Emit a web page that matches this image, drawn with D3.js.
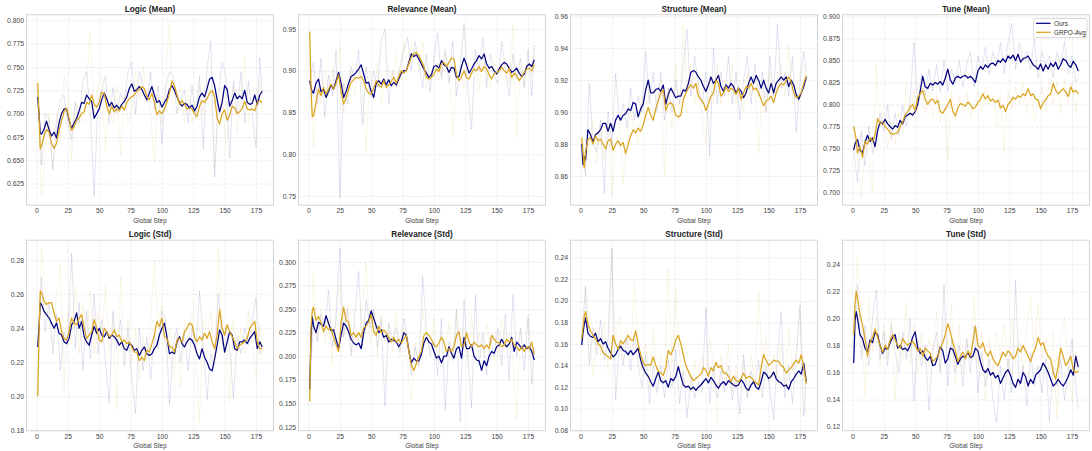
<!DOCTYPE html>
<html>
<head>
<meta charset="utf-8">
<script src="https://cdn.jsdelivr.net/npm/d3@7"></script>
<style>
  body { margin: 0; background: #fff; }
  svg text { font-family: "Liberation Sans", Arial, sans-serif; }
  .grid line { stroke: #e6e6e6; stroke-width: 0.8; stroke-dasharray: 2.5,1.6; }
  .grid path { display: none; }
  .axis path, .axis line { display: none; }
  .axis text { fill: #444; font-size: 6.8px; }
  .title { fill: #222; font-size: 8.2px; font-weight: bold; }
  .xlabel { fill: #444; font-size: 6.4px; }
</style>
</head>
<body>
<div id="container"></div>
<script>
'use strict';

const width = 1092, height = 451;

// steps of the smoothed curves and of the raw (faint) curves
const smoothSteps = [1, 2, 3, ...d3.range(4, 181, 2)];
const rawSteps = [...d3.range(1, 181, 3), 180];
const xTicks = [0, 25, 50, 75, 100, 125, 150, 175];
const seriesNames = ["Ours", "GRPO-Avg"];

// ---- Logic (Mean)
const logicMeanOurs = [
  0.718, 0.700, 0.679, 0.678, 0.683, 0.692, 0.683, 0.676, 0.680, 0.674,
  0.690, 0.700, 0.705, 0.705, 0.693, 0.684, 0.690, 0.695, 0.703, 0.712,
  0.711, 0.720, 0.716, 0.713, 0.695, 0.700, 0.705, 0.715, 0.722, 0.716,
  0.708, 0.712, 0.706, 0.709, 0.705, 0.710, 0.713, 0.718, 0.727, 0.732,
  0.724, 0.726, 0.729, 0.726, 0.720, 0.715, 0.722, 0.729, 0.720, 0.712,
  0.714, 0.707, 0.712, 0.716, 0.726, 0.730, 0.725, 0.718, 0.712, 0.708,
  0.711, 0.710, 0.706, 0.709, 0.703, 0.708, 0.718, 0.722, 0.718, 0.727,
  0.737, 0.739, 0.730, 0.715, 0.702, 0.712, 0.730, 0.726, 0.708, 0.714,
  0.722, 0.716, 0.719, 0.716, 0.725, 0.712, 0.710, 0.711, 0.720, 0.710,
  0.720, 0.724];
const logicMeanGrpo = [
  0.733, 0.700, 0.662, 0.665, 0.676, 0.683, 0.680, 0.668, 0.663, 0.668,
  0.682, 0.692, 0.702, 0.706, 0.695, 0.682, 0.686, 0.693, 0.695, 0.700,
  0.702, 0.712, 0.710, 0.720, 0.710, 0.707, 0.712, 0.723, 0.721, 0.708,
  0.700, 0.708, 0.702, 0.705, 0.703, 0.708, 0.704, 0.712, 0.716, 0.718,
  0.720, 0.724, 0.726, 0.729, 0.727, 0.718, 0.715, 0.722, 0.712, 0.699,
  0.703, 0.700, 0.705, 0.712, 0.722, 0.735, 0.730, 0.720, 0.710, 0.714,
  0.710, 0.705, 0.706, 0.705, 0.700, 0.697, 0.708, 0.714, 0.712, 0.716,
  0.722, 0.725, 0.718, 0.695, 0.689, 0.700, 0.704, 0.693, 0.698, 0.708,
  0.706, 0.700, 0.702, 0.706, 0.713, 0.705, 0.704, 0.705, 0.703, 0.712,
  0.714, 0.712];
const logicMeanOursRaw = [
  0.718, 0.645, 0.700, 0.695, 0.640, 0.690, 0.715, 0.720, 0.690, 0.672,
  0.712, 0.690, 0.735, 0.745, 0.700, 0.611, 0.715, 0.725, 0.740, 0.690,
  0.728, 0.700, 0.722, 0.712, 0.745, 0.755, 0.700, 0.745, 0.730, 0.712,
  0.745, 0.705, 0.730, 0.668, 0.728, 0.745, 0.740, 0.700, 0.715, 0.725,
  0.690, 0.730, 0.695, 0.740, 0.662, 0.750, 0.778, 0.632, 0.720, 0.755,
  0.740, 0.652, 0.735, 0.700, 0.745, 0.690, 0.735, 0.700, 0.664, 0.760,
  0.720];
const logicMeanGrpoRaw = [
  0.733, 0.612, 0.660, 0.700, 0.640, 0.700, 0.675, 0.740, 0.725, 0.650,
  0.715, 0.700, 0.690, 0.735, 0.786, 0.700, 0.725, 0.740, 0.660, 0.712,
  0.690, 0.730, 0.655, 0.720, 0.690, 0.700, 0.745, 0.715, 0.750, 0.720,
  0.700, 0.647, 0.720, 0.690, 0.740, 0.797, 0.705, 0.700, 0.730, 0.690,
  0.720, 0.690, 0.712, 0.730, 0.700, 0.735, 0.725, 0.640, 0.700, 0.720,
  0.665, 0.710, 0.730, 0.680, 0.720, 0.762, 0.690, 0.715, 0.700, 0.735,
  0.700];

// ---- Relevance (Mean)
const relevanceMeanOurs = [
  0.888, 0.880, 0.875, 0.873, 0.885, 0.890, 0.875, 0.878, 0.868, 0.875,
  0.883, 0.878, 0.888, 0.898, 0.885, 0.868, 0.875, 0.885, 0.893, 0.895,
  0.898, 0.902, 0.907, 0.896, 0.885, 0.886, 0.875, 0.868, 0.885, 0.888,
  0.884, 0.890, 0.883, 0.889, 0.882, 0.886, 0.883, 0.890, 0.897, 0.900,
  0.900, 0.910, 0.920, 0.917, 0.919, 0.914, 0.908, 0.902, 0.897, 0.892,
  0.895, 0.905, 0.906, 0.903, 0.912, 0.907, 0.905, 0.898, 0.904, 0.903,
  0.892, 0.893, 0.905, 0.915, 0.907, 0.897, 0.902, 0.908, 0.912, 0.918,
  0.914, 0.920, 0.908, 0.903, 0.905, 0.900, 0.896, 0.902, 0.907, 0.910,
  0.908, 0.903, 0.898, 0.900, 0.903, 0.897, 0.893, 0.896, 0.905, 0.908,
  0.905, 0.913];
const relevanceMeanGrpo = [
  0.947, 0.880, 0.845, 0.846, 0.862, 0.878, 0.870, 0.880, 0.872, 0.878,
  0.884, 0.878, 0.885, 0.895, 0.875, 0.860, 0.868, 0.878, 0.886, 0.889,
  0.892, 0.891, 0.893, 0.888, 0.878, 0.873, 0.872, 0.879, 0.888, 0.883,
  0.880, 0.888, 0.880, 0.883, 0.887, 0.892, 0.885, 0.893, 0.900, 0.897,
  0.900, 0.908, 0.916, 0.920, 0.922, 0.918, 0.912, 0.905, 0.892, 0.890,
  0.892, 0.896, 0.902, 0.899, 0.908, 0.910, 0.905, 0.910, 0.915, 0.914,
  0.895, 0.888, 0.893, 0.900, 0.892, 0.890, 0.897, 0.902, 0.900, 0.905,
  0.899, 0.905, 0.902, 0.895, 0.890, 0.896, 0.898, 0.900, 0.904, 0.900,
  0.897, 0.903, 0.892, 0.897, 0.894, 0.888, 0.893, 0.898, 0.902, 0.903,
  0.900, 0.907];
const relevanceMeanOursRaw = [
  0.888, 0.910, 0.860, 0.915, 0.845, 0.895, 0.870, 0.925, 0.748, 0.885,
  0.860, 0.905, 0.890, 0.925, 0.835, 0.905, 0.870, 0.900, 0.880, 0.935,
  0.950, 0.860, 0.900, 0.880, 0.905, 0.925, 0.940, 0.900, 0.935, 0.910,
  0.880, 0.920, 0.875, 0.915, 0.945, 0.890, 0.925, 0.885, 0.935, 0.870,
  0.905, 0.955, 0.880, 0.830, 0.925, 0.900, 0.940, 0.880, 0.920, 0.895,
  0.885, 0.935, 0.900, 0.870, 0.920, 0.890, 0.915, 0.880, 0.925, 0.870,
  0.930];
const relevanceMeanGrpoRaw = [
  0.947, 0.808, 0.880, 0.860, 0.900, 0.870, 0.905, 0.880, 0.930, 0.850,
  0.890, 0.900, 0.870, 0.905, 0.880, 0.805, 0.900, 0.875, 0.910, 0.860,
  0.895, 0.905, 0.880, 0.920, 0.890, 0.935, 0.905, 0.930, 0.920, 0.900,
  0.935, 0.880, 0.895, 0.905, 0.910, 0.895, 0.920, 0.905, 0.820, 0.895,
  0.905, 0.880, 0.910, 0.895, 0.915, 0.875, 0.920, 0.895, 0.880, 0.910,
  0.900, 0.895, 0.915, 0.885, 0.955, 0.820, 0.905, 0.880, 0.915, 0.895,
  0.935];

// ---- Structure (Mean)
const structureMeanOurs = [
  0.880, 0.867, 0.872, 0.870, 0.889, 0.886, 0.881, 0.886, 0.887, 0.889,
  0.893, 0.893, 0.888, 0.893, 0.888, 0.895, 0.898, 0.895, 0.898, 0.899,
  0.902, 0.901, 0.906, 0.905, 0.897, 0.902, 0.905, 0.914, 0.920, 0.912,
  0.912, 0.914, 0.915, 0.913, 0.917, 0.905, 0.911, 0.915, 0.912, 0.909,
  0.910, 0.910, 0.914, 0.913, 0.918, 0.925, 0.926, 0.925, 0.922, 0.920,
  0.916, 0.913, 0.917, 0.922, 0.918, 0.920, 0.923, 0.916, 0.913, 0.917,
  0.915, 0.918, 0.916, 0.912, 0.915, 0.913, 0.909, 0.912, 0.918, 0.922,
  0.918, 0.923, 0.920, 0.915, 0.920, 0.915, 0.912, 0.918, 0.912, 0.918,
  0.920, 0.922, 0.920, 0.922, 0.916, 0.920, 0.917, 0.911, 0.908, 0.912,
  0.916, 0.922];
const structureMeanGrpo = [
  0.884, 0.875, 0.865, 0.875, 0.883, 0.884, 0.880, 0.885, 0.882, 0.883,
  0.880, 0.877, 0.882, 0.883, 0.876, 0.880, 0.882, 0.879, 0.881, 0.874,
  0.880, 0.885, 0.889, 0.887, 0.890, 0.888, 0.892, 0.898, 0.903, 0.898,
  0.895, 0.902, 0.907, 0.912, 0.914, 0.901, 0.905, 0.906, 0.904, 0.898,
  0.897, 0.898, 0.908, 0.912, 0.915, 0.917, 0.915, 0.918, 0.910, 0.908,
  0.906, 0.901, 0.905, 0.910, 0.912, 0.920, 0.918, 0.910, 0.912, 0.916,
  0.913, 0.915, 0.914, 0.911, 0.915, 0.908, 0.912, 0.916, 0.915, 0.918,
  0.914, 0.915, 0.912, 0.908, 0.904, 0.907, 0.908, 0.910, 0.906, 0.912,
  0.916, 0.918, 0.917, 0.920, 0.922, 0.919, 0.912, 0.909, 0.910, 0.912,
  0.918, 0.923];
const structureMeanOursRaw = [
  0.880, 0.860, 0.918, 0.880, 0.875, 0.895, 0.849, 0.900, 0.880, 0.924,
  0.895, 0.905, 0.890, 0.915, 0.895, 0.910, 0.900, 0.938, 0.905, 0.925,
  0.900, 0.925, 0.895, 0.915, 0.900, 0.920, 0.905, 0.930, 0.952, 0.910,
  0.935, 0.915, 0.905, 0.925, 0.872, 0.940, 0.905, 0.925, 0.910, 0.935,
  0.905, 0.925, 0.895, 0.920, 0.935, 0.905, 0.930, 0.910, 0.925, 0.900,
  0.935, 0.910, 0.955, 0.915, 0.925, 0.910, 0.935, 0.887, 0.920, 0.938,
  0.925];
const structureMeanGrpoRaw = [
  0.884, 0.870, 0.880, 0.895, 0.868, 0.890, 0.870, 0.895, 0.847, 0.880,
  0.895, 0.855, 0.880, 0.900, 0.890, 0.880, 0.910, 0.895, 0.915, 0.895,
  0.905, 0.920, 0.860, 0.915, 0.890, 0.930, 0.895, 0.955, 0.915, 0.930,
  0.905, 0.920, 0.895, 0.880, 0.920, 0.905, 0.930, 0.905, 0.920, 0.910,
  0.930, 0.905, 0.920, 0.900, 0.925, 0.910, 0.920, 0.874, 0.915, 0.900,
  0.925, 0.905, 0.920, 0.930, 0.910, 0.942, 0.905, 0.915, 0.925, 0.930,
  0.920];

// ---- Tune (Mean)
const tuneMeanOurs = [
  0.748, 0.755, 0.758, 0.760, 0.748, 0.745, 0.757, 0.765, 0.758, 0.762,
  0.752, 0.770, 0.780, 0.778, 0.783, 0.778, 0.775, 0.772, 0.776, 0.774,
  0.782, 0.778, 0.786, 0.788, 0.790, 0.788, 0.792, 0.800, 0.815, 0.832,
  0.820, 0.818, 0.824, 0.822, 0.825, 0.823, 0.826, 0.822, 0.830, 0.840,
  0.828, 0.823, 0.830, 0.832, 0.830, 0.832, 0.833, 0.830, 0.832, 0.829,
  0.825, 0.838, 0.843, 0.840, 0.845, 0.842, 0.846, 0.847, 0.844, 0.850,
  0.848, 0.852, 0.848, 0.855, 0.852, 0.856, 0.850, 0.857, 0.848, 0.852,
  0.853, 0.855, 0.850, 0.845, 0.843, 0.840, 0.846, 0.838, 0.845, 0.840,
  0.847, 0.843, 0.848, 0.840, 0.845, 0.852, 0.850, 0.845, 0.842, 0.849,
  0.845, 0.838];
const tuneMeanGrpo = [
  0.775, 0.768, 0.760, 0.745, 0.752, 0.740, 0.758, 0.755, 0.762, 0.758,
  0.765, 0.784, 0.778, 0.780, 0.775, 0.772, 0.768, 0.766, 0.767, 0.768,
  0.775, 0.780, 0.788, 0.792, 0.797, 0.800, 0.793, 0.808, 0.812, 0.816,
  0.806, 0.800, 0.805, 0.806, 0.801, 0.805, 0.792, 0.790, 0.795, 0.800,
  0.806, 0.792, 0.787, 0.796, 0.801, 0.800, 0.798, 0.803, 0.800, 0.795,
  0.797, 0.802, 0.806, 0.812, 0.806, 0.810, 0.804, 0.806, 0.802, 0.805,
  0.796, 0.799, 0.792, 0.800, 0.803, 0.808, 0.806, 0.810, 0.808, 0.812,
  0.810, 0.818, 0.810, 0.812, 0.806, 0.805, 0.795, 0.802, 0.805, 0.810,
  0.812, 0.824, 0.816, 0.812, 0.815, 0.818, 0.814, 0.809, 0.820, 0.814,
  0.816, 0.812];
const tuneMeanOursRaw = [
  0.748, 0.712, 0.770, 0.730, 0.775, 0.745, 0.760, 0.790, 0.770, 0.800,
  0.760, 0.790, 0.765, 0.800, 0.775, 0.805, 0.870, 0.800, 0.835, 0.810,
  0.840, 0.815, 0.845, 0.815, 0.850, 0.815, 0.840, 0.825, 0.850, 0.820,
  0.845, 0.860, 0.820, 0.855, 0.840, 0.865, 0.835, 0.860, 0.845, 0.870,
  0.835, 0.870, 0.892, 0.840, 0.870, 0.850, 0.860, 0.840, 0.875, 0.830,
  0.860, 0.845, 0.855, 0.830, 0.860, 0.845, 0.872, 0.835, 0.855, 0.825,
  0.830];
const tuneMeanGrpoRaw = [
  0.775, 0.740, 0.695, 0.760, 0.740, 0.700, 0.845, 0.775, 0.790, 0.750,
  0.780, 0.755, 0.790, 0.770, 0.825, 0.790, 0.815, 0.795, 0.820, 0.790,
  0.815, 0.785, 0.810, 0.780, 0.800, 0.738, 0.815, 0.780, 0.810, 0.790,
  0.815, 0.785, 0.800, 0.815, 0.790, 0.820, 0.800, 0.810, 0.775, 0.810,
  0.745, 0.815, 0.795, 0.820, 0.800, 0.825, 0.790, 0.815, 0.780, 0.800,
  0.820, 0.790, 0.830, 0.800, 0.825, 0.790, 0.830, 0.800, 0.825, 0.790,
  0.815];

// ---- Logic (Std)
const logicStdOurs = [
  0.229, 0.240, 0.255, 0.254, 0.250, 0.248, 0.246, 0.243, 0.240, 0.243,
  0.237, 0.236, 0.232, 0.231, 0.234, 0.242, 0.244, 0.249, 0.240, 0.244,
  0.235, 0.232, 0.230, 0.236, 0.241, 0.237, 0.240, 0.236, 0.235, 0.238,
  0.234, 0.236, 0.235, 0.233, 0.230, 0.232, 0.228, 0.227, 0.231, 0.230,
  0.227, 0.228, 0.224, 0.227, 0.229, 0.225, 0.224, 0.225, 0.228, 0.230,
  0.236, 0.240, 0.243, 0.235, 0.225, 0.226, 0.225, 0.232, 0.235, 0.231,
  0.229, 0.232, 0.234, 0.233, 0.230, 0.225, 0.222, 0.228, 0.223, 0.220,
  0.216, 0.215, 0.222, 0.230, 0.239, 0.236, 0.226, 0.232, 0.238, 0.236,
  0.228, 0.227, 0.232, 0.232, 0.233, 0.231, 0.234, 0.236, 0.238, 0.228,
  0.232, 0.229];
const logicStdGrpo = [
  0.200, 0.235, 0.262, 0.261, 0.256, 0.254, 0.255, 0.255, 0.249, 0.244,
  0.246, 0.238, 0.234, 0.233, 0.238, 0.246, 0.243, 0.242, 0.246, 0.248,
  0.240, 0.234, 0.236, 0.238, 0.245, 0.240, 0.233, 0.232, 0.240, 0.238,
  0.235, 0.236, 0.239, 0.235, 0.236, 0.232, 0.233, 0.231, 0.232, 0.229,
  0.226, 0.226, 0.221, 0.223, 0.221, 0.227, 0.226, 0.231, 0.236, 0.244,
  0.241, 0.246, 0.235, 0.234, 0.229, 0.229, 0.226, 0.233, 0.234, 0.232,
  0.238, 0.240, 0.243, 0.242, 0.235, 0.232, 0.235, 0.233, 0.237, 0.234,
  0.238, 0.232, 0.228, 0.236, 0.251, 0.240, 0.236, 0.242, 0.238, 0.235,
  0.232, 0.228, 0.230, 0.231, 0.232, 0.234, 0.240, 0.242, 0.244, 0.232,
  0.228, 0.228];
const logicStdOursRaw = [
  0.229, 0.270, 0.238, 0.255, 0.225, 0.248, 0.215, 0.238, 0.230, 0.284,
  0.228, 0.255, 0.215, 0.250, 0.222, 0.260, 0.225, 0.245, 0.220, 0.196,
  0.250, 0.228, 0.245, 0.218, 0.240, 0.210, 0.190, 0.240, 0.215, 0.235,
  0.210, 0.235, 0.228, 0.250, 0.245, 0.195, 0.230, 0.240, 0.220, 0.238,
  0.215, 0.240, 0.228, 0.262, 0.230, 0.198, 0.225, 0.218, 0.260, 0.230,
  0.240, 0.228, 0.199, 0.235, 0.225, 0.240, 0.230, 0.245, 0.258, 0.225,
  0.230];
const logicStdGrpoRaw = [
  0.200, 0.287, 0.258, 0.245, 0.230, 0.260, 0.277, 0.204, 0.250, 0.232,
  0.265, 0.225, 0.255, 0.230, 0.262, 0.225, 0.250, 0.235, 0.265, 0.225,
  0.248, 0.192, 0.270, 0.225, 0.245, 0.220, 0.240, 0.210, 0.235, 0.220,
  0.245, 0.280, 0.240, 0.255, 0.225, 0.240, 0.210, 0.235, 0.205, 0.245,
  0.232, 0.250, 0.225, 0.185, 0.245, 0.235, 0.250, 0.220, 0.287, 0.240,
  0.230, 0.196, 0.245, 0.225, 0.240, 0.225, 0.250, 0.232, 0.210, 0.242,
  0.222];

// ---- Relevance (Std)
const relevanceStdOurs = [
  0.165, 0.220, 0.242, 0.232, 0.225, 0.236, 0.234, 0.232, 0.243, 0.235,
  0.227, 0.228, 0.218, 0.208, 0.222, 0.235, 0.232, 0.226, 0.218, 0.214,
  0.212, 0.214, 0.208, 0.225, 0.235, 0.238, 0.248, 0.240, 0.232, 0.225,
  0.228, 0.220, 0.222, 0.215, 0.218, 0.217, 0.215, 0.210, 0.215, 0.225,
  0.222, 0.206, 0.193, 0.198, 0.195, 0.195, 0.202, 0.214, 0.220, 0.215,
  0.213, 0.205, 0.198, 0.200, 0.193, 0.200, 0.200, 0.210, 0.203, 0.198,
  0.208, 0.210, 0.198, 0.220, 0.208, 0.208, 0.212, 0.200, 0.196, 0.195,
  0.185, 0.195, 0.190, 0.200, 0.205, 0.203, 0.210, 0.212, 0.218, 0.213,
  0.210, 0.213, 0.220, 0.205, 0.215, 0.212, 0.208, 0.212, 0.208, 0.210,
  0.205, 0.196];
const relevanceStdGrpo = [
  0.152, 0.230, 0.248, 0.252, 0.238, 0.242, 0.236, 0.226, 0.232, 0.228,
  0.230, 0.220, 0.212, 0.205, 0.235, 0.252, 0.238, 0.236, 0.222, 0.225,
  0.220, 0.225, 0.220, 0.230, 0.232, 0.236, 0.244, 0.226, 0.222, 0.232,
  0.225, 0.228, 0.225, 0.220, 0.215, 0.220, 0.215, 0.218, 0.214, 0.218,
  0.222, 0.205, 0.190, 0.185, 0.192, 0.200, 0.205, 0.222, 0.225, 0.222,
  0.218, 0.212, 0.210, 0.214, 0.220, 0.215, 0.205, 0.208, 0.205, 0.210,
  0.222, 0.226, 0.210, 0.212, 0.225, 0.215, 0.210, 0.215, 0.212, 0.210,
  0.212, 0.208, 0.212, 0.208, 0.222, 0.218, 0.215, 0.214, 0.210, 0.212,
  0.218, 0.215, 0.218, 0.212, 0.210, 0.206, 0.210, 0.205, 0.210, 0.208,
  0.215, 0.202];
const relevanceStdOursRaw = [
  0.165, 0.240, 0.215, 0.245, 0.230, 0.270, 0.210, 0.240, 0.315, 0.220,
  0.250, 0.200, 0.245, 0.290, 0.210, 0.260, 0.230, 0.250, 0.210, 0.240,
  0.147, 0.235, 0.215, 0.230, 0.205, 0.240, 0.220, 0.180, 0.210, 0.190,
  0.285, 0.230, 0.200, 0.215, 0.180, 0.240, 0.142, 0.215, 0.195, 0.250,
  0.130, 0.260, 0.200, 0.145, 0.265, 0.190, 0.225, 0.180, 0.220, 0.200,
  0.230, 0.190, 0.245, 0.175, 0.265, 0.200, 0.230, 0.185, 0.240, 0.170,
  0.210];
const relevanceStdGrpoRaw = [
  0.152, 0.288, 0.220, 0.250, 0.215, 0.240, 0.190, 0.255, 0.275, 0.220,
  0.255, 0.205, 0.235, 0.215, 0.255, 0.300, 0.215, 0.250, 0.200, 0.245,
  0.215, 0.235, 0.205, 0.245, 0.200, 0.230, 0.185, 0.153, 0.215, 0.185,
  0.250, 0.220, 0.205, 0.240, 0.195, 0.225, 0.205, 0.235, 0.200, 0.245,
  0.210, 0.230, 0.195, 0.240, 0.205, 0.225, 0.200, 0.235, 0.210, 0.225,
  0.200, 0.240, 0.210, 0.225, 0.195, 0.134, 0.230, 0.205, 0.245, 0.215,
  0.155];

// ---- Structure (Std)
const structureStdOurs = [
  0.159, 0.170, 0.178, 0.184, 0.170, 0.167, 0.166, 0.170, 0.162, 0.165,
  0.160, 0.162, 0.156, 0.152, 0.148, 0.150, 0.155, 0.158, 0.154, 0.153,
  0.150, 0.154, 0.150, 0.153, 0.156, 0.145, 0.138, 0.133, 0.130, 0.125,
  0.121, 0.128, 0.134, 0.126, 0.124, 0.126, 0.120, 0.128, 0.126, 0.130,
  0.139, 0.130, 0.122, 0.120, 0.121, 0.118, 0.120, 0.117, 0.120, 0.122,
  0.125, 0.128, 0.124, 0.129, 0.126, 0.122, 0.119, 0.123, 0.125, 0.122,
  0.126, 0.124, 0.122, 0.121, 0.122, 0.127, 0.124, 0.119, 0.117, 0.122,
  0.125, 0.120, 0.118, 0.125, 0.134, 0.132, 0.128, 0.130, 0.134, 0.128,
  0.125, 0.124, 0.121, 0.122, 0.118, 0.125, 0.128, 0.132, 0.135, 0.132,
  0.142, 0.125];
const structureStdGrpo = [
  0.165, 0.175, 0.185, 0.190, 0.178, 0.172, 0.168, 0.165, 0.160, 0.158,
  0.152, 0.150, 0.148, 0.146, 0.168, 0.160, 0.155, 0.163, 0.160, 0.164,
  0.168, 0.164, 0.163, 0.172, 0.160, 0.150, 0.143, 0.140, 0.141, 0.140,
  0.148, 0.140, 0.135, 0.133, 0.131, 0.138, 0.154, 0.150, 0.155, 0.164,
  0.168, 0.160, 0.150, 0.140, 0.135, 0.130, 0.126, 0.128, 0.130, 0.132,
  0.138, 0.136, 0.130, 0.138, 0.135, 0.143, 0.138, 0.140, 0.133, 0.133,
  0.130, 0.125, 0.130, 0.126, 0.125, 0.128, 0.133, 0.128, 0.130, 0.129,
  0.126, 0.124, 0.122, 0.138, 0.150, 0.145, 0.140, 0.142, 0.145, 0.144,
  0.144, 0.140, 0.138, 0.133, 0.136, 0.138, 0.142, 0.145, 0.142, 0.150,
  0.138, 0.123];
const structureStdOursRaw = [
  0.159, 0.213, 0.140, 0.175, 0.150, 0.182, 0.145, 0.165, 0.248, 0.108,
  0.160, 0.140, 0.165, 0.135, 0.170, 0.140, 0.120, 0.150, 0.105, 0.140,
  0.115, 0.140, 0.110, 0.145, 0.120, 0.155, 0.105, 0.135, 0.092, 0.130,
  0.110, 0.125, 0.115, 0.194, 0.105, 0.140, 0.110, 0.135, 0.115, 0.140,
  0.108, 0.130, 0.095, 0.150, 0.110, 0.135, 0.120, 0.145, 0.110, 0.140,
  0.118, 0.090, 0.150, 0.190, 0.110, 0.140, 0.105, 0.150, 0.196, 0.093,
  0.125];
const structureStdGrpoRaw = [
  0.165, 0.215, 0.170, 0.130, 0.175, 0.150, 0.180, 0.135, 0.250, 0.160,
  0.185, 0.145, 0.175, 0.155, 0.215, 0.150, 0.135, 0.160, 0.120, 0.175,
  0.130, 0.150, 0.125, 0.230, 0.140, 0.210, 0.150, 0.120, 0.140, 0.115,
  0.145, 0.130, 0.150, 0.125, 0.165, 0.140, 0.088, 0.150, 0.125, 0.160,
  0.115, 0.140, 0.120, 0.145, 0.110, 0.150, 0.125, 0.209, 0.140, 0.165,
  0.125, 0.150, 0.130, 0.160, 0.120, 0.175, 0.135, 0.150, 0.190, 0.130,
  0.095];

// ---- Tune (Std)
const tuneStdOurs = [
  0.167, 0.198, 0.205, 0.200, 0.188, 0.185, 0.178, 0.175, 0.184, 0.182,
  0.190, 0.188, 0.180, 0.174, 0.178, 0.177, 0.182, 0.186, 0.188, 0.178,
  0.180, 0.177, 0.178, 0.176, 0.180, 0.186, 0.190, 0.178, 0.174, 0.176,
  0.171, 0.169, 0.172, 0.165, 0.166, 0.172, 0.179, 0.176, 0.167, 0.170,
  0.178, 0.177, 0.172, 0.166, 0.170, 0.172, 0.171, 0.175, 0.171, 0.172,
  0.178, 0.176, 0.168, 0.162, 0.160, 0.163, 0.158, 0.160, 0.156, 0.158,
  0.152, 0.156, 0.160, 0.162, 0.158, 0.152, 0.149, 0.155, 0.152, 0.160,
  0.157, 0.150, 0.155, 0.152, 0.158, 0.160, 0.162, 0.167, 0.164, 0.160,
  0.155, 0.150, 0.152, 0.155, 0.152, 0.150, 0.153, 0.157, 0.162, 0.158,
  0.172, 0.164];
const tuneStdGrpo = [
  0.188, 0.210, 0.220, 0.215, 0.203, 0.195, 0.185, 0.172, 0.182, 0.186,
  0.192, 0.186, 0.180, 0.175, 0.180, 0.177, 0.184, 0.188, 0.184, 0.180,
  0.178, 0.185, 0.182, 0.180, 0.182, 0.183, 0.180, 0.176, 0.178, 0.172,
  0.178, 0.176, 0.174, 0.168, 0.170, 0.172, 0.178, 0.182, 0.188, 0.196,
  0.190, 0.182, 0.176, 0.168, 0.172, 0.175, 0.170, 0.176, 0.172, 0.182,
  0.194, 0.180, 0.178, 0.182, 0.175, 0.172, 0.176, 0.170, 0.167, 0.165,
  0.170, 0.175, 0.172, 0.176, 0.174, 0.170, 0.172, 0.178, 0.175, 0.180,
  0.176, 0.172, 0.168, 0.174, 0.178, 0.186, 0.180, 0.182, 0.176, 0.172,
  0.170, 0.160, 0.155, 0.165, 0.178, 0.172, 0.165, 0.168, 0.172, 0.162,
  0.160, 0.161];
const tuneStdOursRaw = [
  0.167, 0.225, 0.170, 0.195, 0.165, 0.200, 0.221, 0.170, 0.190, 0.165,
  0.195, 0.175, 0.160, 0.190, 0.170, 0.200, 0.139, 0.185, 0.165, 0.180,
  0.132, 0.175, 0.190, 0.160, 0.225, 0.150, 0.185, 0.160, 0.180, 0.150,
  0.185, 0.160, 0.195, 0.145, 0.175, 0.150, 0.170, 0.140, 0.123, 0.165,
  0.140, 0.170, 0.145, 0.228, 0.150, 0.165, 0.135, 0.175, 0.150, 0.165,
  0.145, 0.170, 0.124, 0.165, 0.150, 0.170, 0.140, 0.160, 0.185, 0.150,
  0.132];
const tuneStdGrpoRaw = [
  0.188, 0.245, 0.205, 0.142, 0.215, 0.175, 0.200, 0.165, 0.195, 0.170,
  0.200, 0.140, 0.190, 0.170, 0.212, 0.165, 0.195, 0.160, 0.190, 0.165,
  0.185, 0.175, 0.205, 0.160, 0.200, 0.180, 0.210, 0.150, 0.195, 0.160,
  0.185, 0.170, 0.215, 0.165, 0.190, 0.138, 0.185, 0.160, 0.190, 0.170,
  0.195, 0.160, 0.200, 0.165, 0.185, 0.160, 0.195, 0.215, 0.175, 0.210,
  0.170, 0.185, 0.160, 0.190, 0.125, 0.185, 0.200, 0.165, 0.138, 0.175,
  0.160];

// axis limits and tick labels of each panel, as in the picture
const panelTitles = ["Logic (Mean)", "Relevance (Mean)", "Structure (Mean)", "Tune (Mean)",
                     "Logic (Std)", "Relevance (Std)", "Structure (Std)", "Tune (Std)"];
const yLimits = [[0.6018, 0.8061], [0.739, 0.967], [0.8417, 0.961], [0.6856, 0.9019],
                 [0.1798, 0.2917], [0.121, 0.323], [0.0797, 0.256], [0.117, 0.2577]];
const yTicks = [
  [0.625, 0.650, 0.675, 0.700, 0.725, 0.750, 0.775, 0.800],
  [0.75, 0.80, 0.85, 0.90, 0.95],
  [0.86, 0.88, 0.90, 0.92, 0.94, 0.96],
  [0.700, 0.725, 0.750, 0.775, 0.800, 0.825, 0.850, 0.875, 0.900],
  [0.18, 0.20, 0.22, 0.24, 0.26, 0.28],
  [0.125, 0.150, 0.175, 0.200, 0.225, 0.250, 0.275, 0.300],
  [0.08, 0.10, 0.12, 0.14, 0.16, 0.18, 0.20, 0.22, 0.24],
  [0.12, 0.14, 0.16, 0.18, 0.20, 0.22, 0.24]
];
const yTickFormats = [".3f", ".2f", ".2f", ".3f", ".2f", ".3f", ".2f", ".2f"];

const panels = [
  [logicMeanOurs, logicMeanGrpo, logicMeanOursRaw, logicMeanGrpoRaw],
  [relevanceMeanOurs, relevanceMeanGrpo, relevanceMeanOursRaw, relevanceMeanGrpoRaw],
  [structureMeanOurs, structureMeanGrpo, structureMeanOursRaw, structureMeanGrpoRaw],
  [tuneMeanOurs, tuneMeanGrpo, tuneMeanOursRaw, tuneMeanGrpoRaw],
  [logicStdOurs, logicStdGrpo, logicStdOursRaw, logicStdGrpoRaw],
  [relevanceStdOurs, relevanceStdGrpo, relevanceStdOursRaw, relevanceStdGrpoRaw],
  [structureStdOurs, structureStdGrpo, structureStdOursRaw, structureStdGrpoRaw],
  [tuneStdOurs, tuneStdGrpo, tuneStdOursRaw, tuneStdGrpoRaw]
].map((d, i) => ({
  title: panelTitles[i],
  ylim: yLimits[i],
  ticks: yTicks[i],
  fmt: yTickFormats[i],
  smooth: [d[0], d[1]],
  raw: [d[2], d[3]]
}));

// layout
const colors = ["#000080", "#DAA520"];
const plotW = 247, plotH = 190.5;
const colX = [26.5, 298.5, 570.5, 842.5];
const rowY = [14.7, 240.2];
const xDomain = [1 - 0.05 * 179, 180 + 0.05 * 179];

const svg = d3.select("#container")
  .append("svg")
  .attr("width", width)
  .attr("height", height);

const zip = (steps, vals) => vals.map((v, k) => [steps[k], v]).filter(p => p[0] !== undefined);

panels.forEach((p, i) => {
  const left = colX[i % 4], top = rowY[Math.floor(i / 4)];

  const xScale = d3.scaleLinear().domain(xDomain).range([left, left + plotW]);
  const yScale = d3.scaleLinear().domain(p.ylim).range([top + plotH, top]);

  const g = svg.append("g");

  g.append("g")
    .attr("class", "grid")
    .attr("transform", `translate(0,${top + plotH})`)
    .call(d3.axisBottom(xScale).tickValues(xTicks).tickSize(-plotH).tickFormat(""));
  g.append("g")
    .attr("class", "grid")
    .attr("transform", `translate(${left},0)`)
    .call(d3.axisLeft(yScale).tickValues(p.ticks).tickSize(-plotW).tickFormat(""));

  g.append("rect")
    .attr("x", left).attr("y", top)
    .attr("width", plotW).attr("height", plotH)
    .attr("fill", "none")
    .attr("stroke", "#d4d4d4")
    .attr("stroke-width", 1);

  const line = d3.line().x(d => xScale(d[0])).y(d => yScale(d[1]));

  [0, 1].forEach(s => {
    g.append("path")
      .datum(zip(rawSteps, p.raw[s]))
      .attr("d", line)
      .attr("fill", "none")
      .attr("stroke", colors[s])
      .attr("stroke-opacity", 0.14)
      .attr("stroke-width", 0.8);
    g.append("path")
      .datum(zip(smoothSteps, p.smooth[s]))
      .attr("d", line)
      .attr("fill", "none")
      .attr("stroke", colors[s])
      .attr("stroke-width", 1.25)
      .attr("stroke-linejoin", "round");
  });

  g.append("g")
    .attr("class", "axis")
    .attr("transform", `translate(0,${top + plotH})`)
    .call(d3.axisBottom(xScale).tickValues(xTicks).tickSize(0).tickPadding(3));
  g.append("g")
    .attr("class", "axis")
    .attr("transform", `translate(${left},0)`)
    .call(d3.axisLeft(yScale).tickValues(p.ticks).tickSize(0).tickPadding(2.5).tickFormat(d3.format(p.fmt)));

  g.append("text")
    .attr("class", "title")
    .attr("x", left + plotW / 2)
    .attr("y", top - 3)
    .attr("text-anchor", "middle")
    .text(p.title);

  g.append("text")
    .attr("class", "xlabel")
    .attr("x", left + plotW / 2)
    .attr("y", top + plotH + 17.5)
    .attr("text-anchor", "middle")
    .text("Global Step");

  // legend only in the Tune (Mean) panel
  if (i === 3) {
    const lx = left + plotW - 56, ly = top + 3.8;
    const lg = g.append("g").attr("transform", `translate(${lx},${ly})`);
    lg.append("rect")
      .attr("width", 53.5).attr("height", 19)
      .attr("rx", 2)
      .attr("fill", "#fff")
      .attr("fill-opacity", 0.85)
      .attr("stroke", "#d0d0d0")
      .attr("stroke-width", 0.8);
    seriesNames.forEach((name, k) => {
      const yy = 4.8 + k * 9;
      lg.append("line")
        .attr("x1", 2.5).attr("x2", 17)
        .attr("y1", yy).attr("y2", yy)
        .attr("stroke", colors[k])
        .attr("stroke-width", 1.25);
      lg.append("text")
        .attr("x", 20.5).attr("y", yy)
        .attr("dy", "0.35em")
        .attr("font-size", 6.4)
        .attr("fill", "#333")
        .text(name);
    });
  }
});
</script>
</body>
</html>
